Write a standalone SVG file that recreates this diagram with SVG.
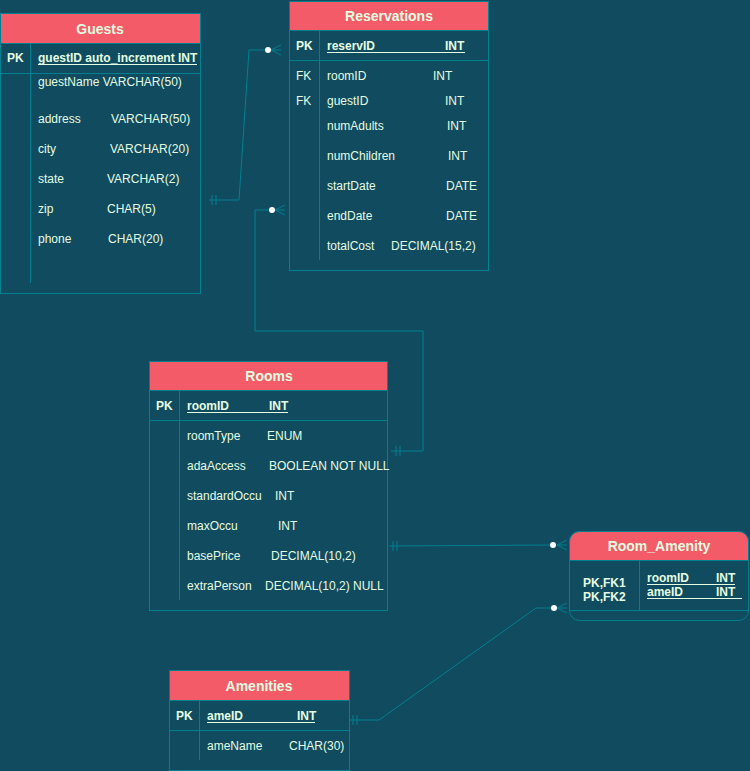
<svg xmlns="http://www.w3.org/2000/svg" width="750" height="771" viewBox="0 0 750 771">
<style>
.bg{fill:#114B5F}
.box{fill:#114B5F;stroke:#028090;stroke-width:1}
.hdr{fill:#F45B69;stroke:#028090;stroke-width:1}
.ln{stroke:#028090;stroke-width:1;fill:none}
.ul{stroke:#E4FDE1;stroke-width:1}
.t{font-family:"Liberation Sans",Arial,sans-serif;font-size:12px;fill:#E4FDE1}
.b{font-weight:bold}
.h{font-family:"Liberation Sans",Arial,sans-serif;font-size:14px;font-weight:bold;fill:#E4FDE1;text-anchor:middle}
.e{stroke:#028090;stroke-width:1;fill:none}
.dot{fill:#FFFFFF}
</style>
<rect class="bg" x="0" y="0" width="750" height="771"/>

<g id="connectors">
  <!-- Guests -> Reservations -->
  <path class="e" d="M209,200 L239,200 L249,50 L268,50"/>
  <path class="e" d="M212,195 V205 M216,195 V205"/>
  <circle class="dot" cx="268" cy="50" r="3"/>
  <path class="e" d="M281,45 L271,50 L281,55 M271,50 H281"/>
  <!-- Rooms -> Reservations -->
  <path class="e" d="M391,451 L423,451 L423,331 L255,331 L255,210 L272,210"/>
  <path class="e" d="M396,446 V456 M400,446 V456"/>
  <circle class="dot" cx="272" cy="210" r="3"/>
  <path class="e" d="M285,205 L275,210 L285,215 M275,210 H285"/>
  <!-- Rooms -> Room_Amenity -->
  <path class="e" d="M389,546 L553,545"/>
  <path class="e" d="M393,541 V551 M397,541 V551"/>
  <circle class="dot" cx="553" cy="545" r="3"/>
  <path class="e" d="M567,540 L557,545 L567,550 M557,545 H567"/>
  <!-- Amenities -> Room_Amenity -->
  <path class="e" d="M350,720 L379,720 L536,608 L554,608"/>
  <path class="e" d="M353,715 V725 M357,715 V725"/>
  <circle class="dot" cx="554" cy="608" r="3"/>
  <path class="e" d="M567,603 L557,608 L567,613 M557,608 H567"/>
</g>

<g id="guests">
  <rect class="box" x="0.5" y="13.5" width="200" height="280"/>
  <rect class="hdr" x="0.5" y="13.5" width="200" height="30"/>
  <text class="h" x="100" y="34">Guests</text>
  <line class="ln" x1="0.5" y1="73.5" x2="200.5" y2="73.5"/>
  <line class="ln" x1="30.5" y1="43.5" x2="30.5" y2="283"/>
  <text class="t b" x="7" y="62">PK</text>
  <text class="t b" x="38" y="62">guestID auto_increment INT</text>
  <line class="ul" x1="38" y1="64.5" x2="197" y2="64.5"/>
  <text class="t" x="38" y="86">guestName VARCHAR(50)</text>
  <text class="t" x="38" y="123">address</text><text class="t" x="111" y="123">VARCHAR(50)</text>
  <text class="t" x="38" y="153">city</text><text class="t" x="110" y="153">VARCHAR(20)</text>
  <text class="t" x="38" y="183">state</text><text class="t" x="107" y="183">VARCHAR(2)</text>
  <text class="t" x="38" y="213">zip</text><text class="t" x="107" y="213">CHAR(5)</text>
  <text class="t" x="38" y="243">phone</text><text class="t" x="108" y="243">CHAR(20)</text>
</g>

<g id="reservations">
  <rect class="box" x="289.5" y="1.5" width="199" height="269"/>
  <rect class="hdr" x="289.5" y="1.5" width="199" height="29"/>
  <text class="h" x="389" y="21">Reservations</text>
  <line class="ln" x1="289.5" y1="60.5" x2="488.5" y2="60.5"/>
  <line class="ln" x1="319.5" y1="30.5" x2="319.5" y2="260"/>
  <text class="t b" x="296" y="50">PK</text>
  <text class="t b" x="327" y="50">reservID</text><text class="t b" x="445" y="50">INT</text>
  <line class="ul" x1="327" y1="52.5" x2="465" y2="52.5"/>
  <text class="t" x="296" y="80">FK</text>
  <text class="t" x="327" y="80">roomID</text><text class="t" x="433" y="80">INT</text>
  <text class="t" x="296" y="105">FK</text>
  <text class="t" x="327" y="105">guestID</text><text class="t" x="445" y="105">INT</text>
  <text class="t" x="327" y="130">numAdults</text><text class="t" x="447" y="130">INT</text>
  <text class="t" x="327" y="160">numChildren</text><text class="t" x="448" y="160">INT</text>
  <text class="t" x="327" y="190">startDate</text><text class="t" x="446" y="190">DATE</text>
  <text class="t" x="327" y="220">endDate</text><text class="t" x="446" y="220">DATE</text>
  <text class="t" x="327" y="250">totalCost</text><text class="t" x="391" y="250">DECIMAL(15,2)</text>
</g>

<g id="rooms">
  <rect class="box" x="149.5" y="361.5" width="238" height="249"/>
  <rect class="hdr" x="149.5" y="361.5" width="238" height="29"/>
  <text class="h" x="269" y="381">Rooms</text>
  <line class="ln" x1="149.5" y1="420.5" x2="387.5" y2="420.5"/>
  <line class="ln" x1="179.5" y1="390.5" x2="179.5" y2="600"/>
  <text class="t b" x="156" y="410">PK</text>
  <text class="t b" x="187" y="410">roomID</text><text class="t b" x="269" y="410">INT</text>
  <line class="ul" x1="187" y1="412.5" x2="288" y2="412.5"/>
  <text class="t" x="187" y="440">roomType</text><text class="t" x="267" y="440">ENUM</text>
  <text class="t" x="187" y="470">adaAccess</text><text class="t" x="269" y="470">BOOLEAN NOT NULL</text>
  <text class="t" x="187" y="500">standardOccu</text><text class="t" x="275" y="500">INT</text>
  <text class="t" x="187" y="530">maxOccu</text><text class="t" x="278" y="530">INT</text>
  <text class="t" x="187" y="560">basePrice</text><text class="t" x="271" y="560">DECIMAL(10,2)</text>
  <text class="t" x="187" y="590">extraPerson</text><text class="t" x="265" y="590">DECIMAL(10,2) NULL</text>
</g>

<g id="room_amenity">
  <rect class="box" x="569.5" y="531.5" width="179" height="89" rx="10" ry="10"/>
  <path class="hdr" d="M569.5,560.5 V541.5 A10,10 0 0 1 579.5,531.5 H738.5 A10,10 0 0 1 748.5,541.5 V560.5 Z"/>
  <text class="h" x="659" y="551">Room_Amenity</text>
  <line class="ln" x1="569.5" y1="610.5" x2="748.5" y2="610.5"/>
  <line class="ln" x1="639.5" y1="560.5" x2="639.5" y2="610.5"/>
  <text class="t b" x="583" y="587">PK,FK1</text>
  <text class="t b" x="583" y="601">PK,FK2</text>
  <text class="t b" x="647" y="582">roomID</text><text class="t b" x="716" y="582">INT</text>
  <line class="ul" x1="647" y1="584.5" x2="735" y2="584.5"/>
  <text class="t b" x="647" y="596">ameID</text><text class="t b" x="716" y="596">INT</text>
  <line class="ul" x1="647" y1="598.5" x2="742" y2="598.5"/>
</g>

<g id="amenities">
  <rect class="box" x="169.5" y="670.5" width="180" height="100"/>
  <rect class="hdr" x="169.5" y="670.5" width="180" height="30"/>
  <text class="h" x="259" y="691">Amenities</text>
  <line class="ln" x1="169.5" y1="730.5" x2="349.5" y2="730.5"/>
  <line class="ln" x1="199.5" y1="700.5" x2="199.5" y2="760"/>
  <text class="t b" x="176" y="720">PK</text>
  <text class="t b" x="207" y="720">ameID</text><text class="t b" x="297" y="720">INT</text>
  <line class="ul" x1="207" y1="722.5" x2="315" y2="722.5"/>
  <text class="t" x="207" y="750">ameName</text><text class="t" x="289" y="750">CHAR(30)</text>
</g>
</svg>
